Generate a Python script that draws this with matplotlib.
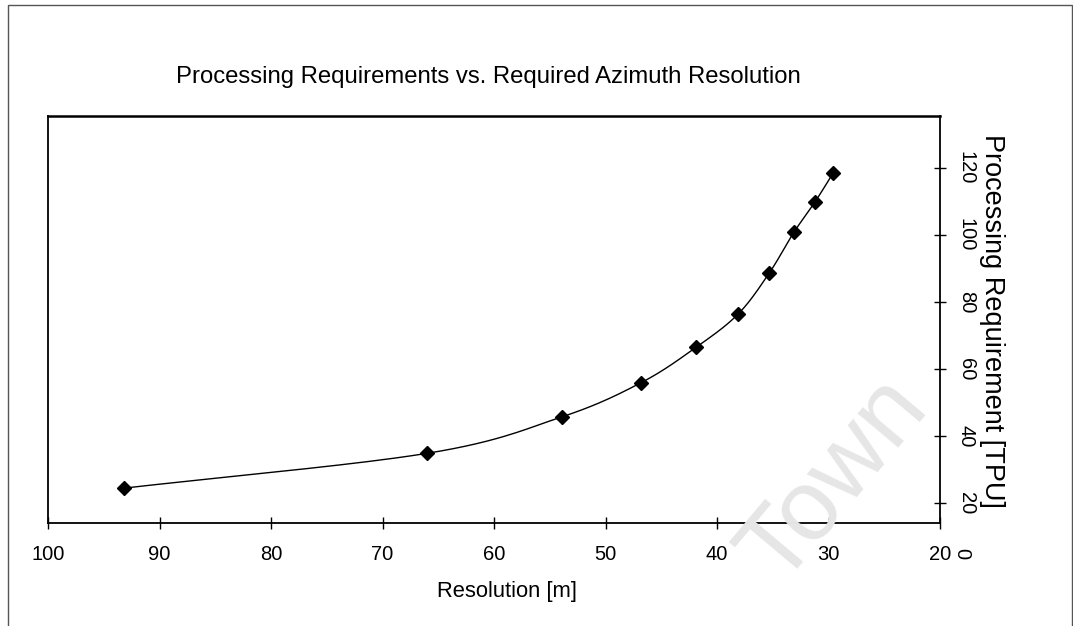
import matplotlib
matplotlib.use("Agg")
import numpy as np
import matplotlib.pyplot as plt
import matplotlib.transforms as mtransforms
from matplotlib.patches import Rectangle

# Data
resolution = [93.2, 66.0, 53.9, 46.8, 41.9, 38.1, 35.3, 33.1, 31.2, 29.6]
tpu = [24.4, 34.8, 45.7, 55.9, 66.4, 76.4, 88.7, 100.8, 109.9, 118.4]
x_ticks = [100, 90, 80, 70, 60, 50, 40, 30, 20]
y_ticks = [20, 40, 60, 80, 100, 120]

title = "Processing Requirements vs. Required Azimuth Resolution"
xlabel = "Resolution [m]"
ylabel = "Processing Requirement [TPU]"

plt.rcParams['font.family'] = ['Liberation Sans', 'DejaVu Sans']


def smooth_line(xs, ys, n=30):
    """Catmull-Rom rendering of a smoothed line through the points."""
    p = np.column_stack([xs, ys]).astype(float)
    p = np.vstack([2 * p[0] - p[1], p, 2 * p[-1] - p[-2]])
    out = []
    t = np.linspace(0, 1, n, endpoint=False)[:, None]
    for i in range(1, len(p) - 2):
        p0, p1, p2, p3 = p[i - 1], p[i], p[i + 1], p[i + 2]
        seg = 0.5 * ((2 * p1) + (-p0 + p2) * t +
                     (2 * p0 - 5 * p1 + 4 * p2 - p3) * t ** 2 +
                     (-p0 + 3 * p1 - 3 * p2 + p3) * t ** 3)
        out.append(seg)
    out.append(p[-2][None, :])
    out = np.vstack(out)
    return out[:, 0], out[:, 1]


W, H = 1073, 626
fig = plt.figure(figsize=(W / 100, H / 100), dpi=100)

L, R, T, B = 48, 940, 116, 523
ax = fig.add_axes([L / W, 1 - B / H, (R - L) / W, (B - T) / H])

# watermark
fig.text(835 / W, 1 - 480 / H, "Town", fontsize=72, color="#e6e6e6",
         rotation=50, ha="center", va="center", zorder=0)
ax.set_facecolor("none")

sx, sy = smooth_line(resolution, tpu)
ax.plot(sx, sy, color="black", lw=1.0)
ax.plot(resolution, tpu, linestyle="none", marker="D", markersize=7,
        markerfacecolor="black", markeredgecolor="black")

ax.set_xlim(100, 20)
ax.set_ylim(14, 135.5)
ax.set_xticks(x_ticks)
ax.set_xticklabels([str(v) for v in x_ticks], fontsize=14.5)
ax.set_yticks(y_ticks)
ax.yaxis.tick_right()
ax.set_yticklabels([str(v) for v in y_ticks], fontsize=14.5, rotation=-90,
                   va="center", ha="left")

ax.tick_params(axis="x", direction="inout", length=8, width=1, pad=12)
ax.tick_params(axis="y", direction="inout", length=8, width=1, pad=8,
               left=False, right=True)

for s in ax.spines.values():
    s.set_linewidth(1.3)
    s.set_color("black")
ax.spines["top"].set_linewidth(1.8)

# zero label below the plotted range on the right axis
trans = mtransforms.blended_transform_factory(ax.transAxes, ax.transData)
ax.text(1.0 + 12 / (R - L), 5, "0", transform=trans, fontsize=14.5,
        rotation=-90, ha="left", va="center", clip_on=False)

ax.set_xlabel(xlabel, fontsize=15.8)
ax.xaxis.set_label_coords((507 - L) / (R - L), -(581 - B) / (B - T))
fig.text(992 / W, 1 - 321 / H, ylabel, fontsize=19.5, rotation=-90,
         ha="center", va="center")
fig.text(488 / W, 1 - 77 / H, title, fontsize=17.2, ha="center", va="center")

# outer chart border
fig.patches.append(Rectangle((8 / W, -0.1), (1072 - 8) / W, 1.1 - 5 / H,
                             transform=fig.transFigure, fill=False,
                             edgecolor="#555555", lw=1.0))

fig.savefig("out.png", dpi=100)
